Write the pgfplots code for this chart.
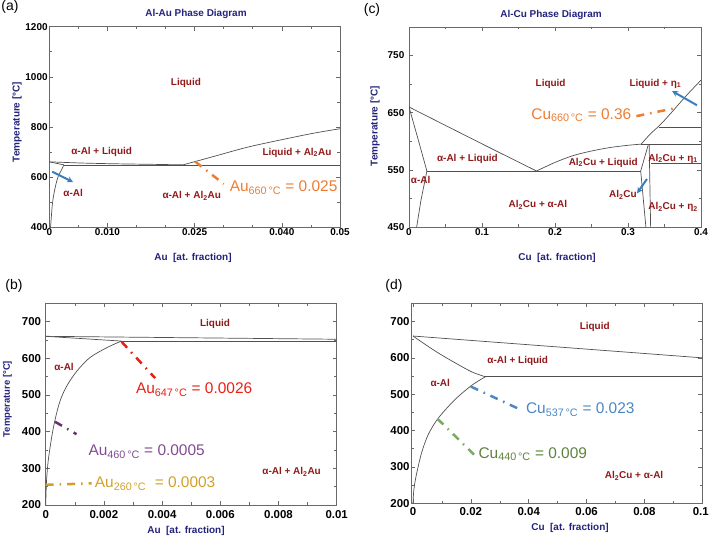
\documentclass[border=0pt]{standalone}
\usepackage{pgfplots}
\pgfplotsset{compat=1.18}
\usepackage{fontspec}
\setmainfont{Liberation Sans}
\usetikzlibrary{arrows.meta}
\definecolor{labC}{RGB}{145,25,25}
\definecolor{navyC}{RGB}{35,35,125}
\definecolor{frameC}{RGB}{105,105,105}
\definecolor{lineC}{RGB}{80,80,80}
\definecolor{orC}{RGB}{237,125,49}
\definecolor{redC}{RGB}{235,30,20}
\definecolor{purC}{RGB}{130,75,145}
\definecolor{purL}{RGB}{105,45,115}
\definecolor{goldC}{RGB}{210,160,40}
\definecolor{blueC}{RGB}{75,135,195}
\definecolor{grnC}{RGB}{95,130,60}
\definecolor{grnL}{RGB}{120,170,100}
\definecolor{arrC}{RGB}{60,125,190}
\pgfplotsset{
 ph/.style={scale only axis, anchor=south west,
   axis line style={draw=frameC,line width=0.8bp},
   every tick/.style={draw=frameC,line width=0.6bp},
   major tick length=4bp, minor tick length=2.5bp,
   scaled x ticks=false, scaled y ticks=false,
   /pgf/number format/assume math mode=true,
   /pgf/number format/1000 sep={},
   tick label style={font=\bfseries\fontsize{10}{12}\selectfont, text=black, inner sep=1.5bp}},
}
\tikzset{
 pl/.style={draw=lineC, line width=0.7bp},
 rl/.style={font=\bfseries\fontsize{10}{12}\selectfont, text=labC, inner sep=0pt},
 an/.style={font=\fontsize{15.5}{18}\selectfont, inner sep=0pt},
 dd/.style={line width=2.5bp, dash pattern=on 8bp off 6bp on 1.5bp off 6bp},
 ar/.style={draw=arrC, line width=2bp, -{Stealth[length=6bp,width=6bp]}},
}
\begin{document}
\begin{tikzpicture}
\path[use as bounding box] (0,0) rectangle (709bp,539bp);
% ---------------- (a)
\begin{axis}[ph, at={(49.3bp,311.7bp)}, width=290.7bp, height=200.6bp,
  xmin=0, xmax=0.05, ymin=400, ymax=1200,
  xtick={0,0.01,0.025,0.04,0.05}, xticklabels={0,0.010,0.025,0.040,0.05},
  minor xtick={0.005,0.015,0.02,0.03,0.035,0.045},
  ytick={400,600,800,1000,1200}, minor ytick={500,700,900,1100}]
\addplot[pl, no marks, smooth] coordinates {(0,661) (0.006,656) (0.012,653) (0.018,651) (0.023,649)};
\addplot[pl, no marks, smooth] coordinates {(0.023,649) (0.0282,682) (0.034,719) (0.0397,748) (0.0454,775) (0.05,793)};
\addplot[pl, no marks] coordinates {(0,661) (0.0025,649)};
\addplot[pl, no marks] coordinates {(0.0025,649) (0.05,649)};
\addplot[pl, no marks, smooth] coordinates {(0.0025,649) (0.0021,629) (0.00152,602) (0.00107,565) (0.00072,524) (0.00049,483) (0.00032,432) (0.00021,400)};
\addplot[ar, no marks] coordinates {(0.0005,622) (0.0041,580)};
\addplot[orC, dd, no marks] coordinates {(0.0251,662) (0.030,573)};
\node[an, text=orC] at (axis cs:0.0403,559) {Au\textsubscript{660\,°C} = 0.025};
\node[rl] at (axis cs:0.0235,977) {Liquid};
\node[rl] at (axis cs:0.009,702) {α-Al + Liquid};
\node[rl] at (axis cs:0.0426,698) {Liquid + Al\textsubscript{2}Au};
\node[rl] at (axis cs:0.0041,538) {α-Al};
\node[rl] at (axis cs:0.0245,525) {α-Al + Al\textsubscript{2}Au};
\end{axis}
% ---------------- (c)
\begin{axis}[ph, at={(409bp,312bp)}, width=292bp, height=200bp,
  xmin=0, xmax=0.4, ymin=450, ymax=800,
  xtick={0,0.1,0.2,0.3,0.4}, xticklabels={0,0.1,0.2,0.3,0.4},
  minor xtick={0.05,0.15,0.25,0.35},
  ytick={450,550,650,750}, minor ytick={500,600,700},
  yticklabel style={xshift=-3bp}]
\addplot[pl, no marks, smooth] coordinates {(0,660) (0.107,591) (0.1747,548)};
\addplot[pl, no marks, smooth] coordinates {(0.1747,548) (0.2,563) (0.225,575) (0.25,583) (0.275,589) (0.3,593) (0.318,595)};
\addplot[pl, no marks, smooth] coordinates {(0.318,595) (0.33,612) (0.345,630) (0.36,651) (0.38,680) (0.4,707)};
\addplot[pl, no marks, line width=1.2bp] coordinates {(0.318,595) (0.4,595)};
\addplot[pl, no marks] coordinates {(0.343,625) (0.4,625)};
\addplot[pl, no marks] coordinates {(0.331,562) (0.4,562)};
\addplot[pl, no marks] coordinates {(0.328,595) (0.3174,548) (0.3245,450)};
\addplot[pl, no marks] coordinates {(0.329,595) (0.331,450)};
\addplot[pl, no marks] coordinates {(0.0245,548) (0.3174,548)};
\addplot[pl, no marks] coordinates {(0,660) (0.0128,602) (0.0245,548)};
\addplot[pl, no marks] coordinates {(0.0245,548) (0.0164,497) (0.0105,450)};
\addplot[orC, dd, no marks] coordinates {(0.3115,644) (0.3626,657.5)};
\node[an, text=orC] at (axis cs:0.236,646) {Cu\textsubscript{660\,°C} = 0.36};
\addplot[ar, no marks] coordinates {(0.3945,663) (0.3603,688)};
\addplot[ar, no marks] coordinates {(0.326,534) (0.3124,509)};
\node[rl] at (axis cs:0.194,701) {Liquid};
\node[rl] at (axis cs:0.3375,701) {Liquid + η\textsubscript{1}};
\node[rl] at (axis cs:0.08,569) {α-Al + Liquid};
\node[rl] at (axis cs:0.266,563) {Al\textsubscript{2}Cu + Liquid};
\node[rl] at (axis cs:0.3617,570) {Al\textsubscript{2}Cu + η\textsubscript{1}};
\node[rl] at (axis cs:0.016,532) {α-Al};
\node[rl] at (axis cs:0.293,506) {Al\textsubscript{2}Cu};
\node[rl] at (axis cs:0.1765,489) {Al\textsubscript{2}Cu + α-Al};
\node[rl] at (axis cs:0.3617,485) {Al\textsubscript{2}Cu + η\textsubscript{2}};
\end{axis}
% ---------------- (b)
\begin{axis}[ph, at={(45.7bp,34bp)}, width=291bp, height=201.7bp,
  xmin=0, xmax=0.01, ymin=200, ymax=750,
  xtick={0,0.002,0.004,0.006,0.008,0.01}, xticklabels={0,0.002,0.004,0.006,0.008,0.01},
  minor xtick={0.001,0.003,0.005,0.007,0.009},
  ytick={200,300,400,500,600,700}, minor ytick={250,350,450,550,650},
  tick label style={font=\bfseries\fontsize{11.5}{13}\selectfont},
  xticklabel style={yshift=-4bp}, yticklabel style={xshift=-3bp}]
\addplot[pl, no marks] coordinates {(0,660) (0.01,652)};
\addplot[pl, no marks] coordinates {(0,660) (0.0026,647)};
\addplot[pl, no marks] coordinates {(0.0026,647) (0.01,647)};
\addplot[pl, no marks, smooth] coordinates {(0.0026,647) (0.0021,629) (0.00152,602) (0.00107,565) (0.00072,524) (0.00049,483) (0.00032,432) (0.00021,387) (0.00009,323) (0.00003,268) (0.000005,215) (0,200)};
\addplot[redC, dd, no marks] coordinates {(0.00261,645) (0.00376,546)};
\node[an, text=redC] at (axis cs:0.0051,514) {Au\textsubscript{647\,°C} = 0.0026};
\addplot[purL, dd, no marks] coordinates {(0.00032,427) (0.00106,393)};
\node[an, text=purC] at (axis cs:0.00347,345) {Au\textsubscript{460\,°C} = 0.0005};
\addplot[goldC, dd, no marks] coordinates {(0,255) (0.00158,259)};
\node[an, text=goldC] at (axis cs:0.00376,259) {Au\textsubscript{260\,°C}\ \ = 0.0003};
\node[rl] at (axis cs:0.00582,695) {Liquid};
\node[rl] at (axis cs:0.00063,577) {α-Al};
\node[rl] at (axis cs:0.00845,290) {α-Al + Al\textsubscript{2}Au};
\end{axis}
% ---------------- (d)
\begin{axis}[ph, at={(411.3bp,35.7bp)}, width=291bp, height=200bp,
  xmin=-0.0006, xmax=0.1, ymin=200, ymax=750,
  xtick={0,0.02,0.04,0.06,0.08,0.1}, xticklabels={0,0.02,0.04,0.06,0.08,\kern-3bp0.1},
  minor xtick={0.01,0.03,0.05,0.07,0.09},
  ytick={200,300,400,500,600,700}, minor ytick={250,350,450,550,650},
  tick label style={font=\bfseries\fontsize{11.5}{14}\selectfont},
  xticklabel style={yshift=-3bp}]
\addplot[pl, no marks] coordinates {(0,660) (0.1,600)};
\addplot[pl, no marks, smooth] coordinates {(0,660) (0.0042,637) (0.0088,613) (0.0146,586) (0.0204,561) (0.025,548)};
\addplot[pl, no marks] coordinates {(0.025,548) (0.1,548)};
\addplot[pl, no marks, smooth] coordinates {(0.025,548) (0.0204,525) (0.0146,486) (0.0088,435) (0.0053,390) (0.003,340) (0.0013,284) (0.0005,250) (0.00015,225) (0,200)};
\addplot[blueC, dd, no marks] coordinates {(0.02,521) (0.0362,461)};
\node[an, text=blueC] at (axis cs:0.0578,457) {Cu\textsubscript{537\,°C} = 0.023};
\addplot[grnL, dd, no marks] coordinates {(0.0085,432) (0.0212,333)};
\node[an, text=grnC] at (axis cs:0.0414,335) {Cu\textsubscript{440\,°C} = 0.009};
\node[rl] at (axis cs:0.0628,684) {Liquid};
\node[rl] at (axis cs:0.0362,592) {α-Al + Liquid};
\node[rl] at (axis cs:0.0094,532) {α-Al};
\node[rl] at (axis cs:0.0764,276) {Al\textsubscript{2}Cu + α-Al};
\end{axis}
% ---------------- outer texts
\tikzset{ttl/.style={font=\bfseries\fontsize{10}{12}\selectfont, text=navyC, inner sep=0pt}}
\node[ttl] at (196bp,525bp) {Al-Au Phase Diagram};
\node[ttl] at (551bp,524bp) {Al-Cu Phase Diagram};
\node[ttl] at (193bp,281bp) {Au\ \ [at. fraction]};
\node[ttl] at (557bp,281bp) {Cu\ \ [at. fraction]};
\node[ttl] at (186bp,8bp) {Au\ \ [at. fraction]};
\node[ttl] at (570bp,11bp) {Cu\ \ [at. fraction]};
\node[ttl, rotate=90] at (17bp,417bp) {Temperature [°C]};
\node[ttl, rotate=90] at (375bp,413bp) {Temperature [°C]};
\node[ttl, rotate=90, font=\bfseries\fontsize{9.5}{11}\selectfont] at (7.5bp,140bp) {Temperature [°C]};
\tikzset{pn/.style={font=\fontsize{14}{16}\selectfont, inner sep=0pt}}
\node[pn] at (10bp,532bp) {(a)};
\node[pn] at (372bp,529bp) {(c)};
\node[pn] at (14bp,253bp) {(b)};
\node[pn] at (394bp,253bp) {(d)};
\end{tikzpicture}
\end{document}
